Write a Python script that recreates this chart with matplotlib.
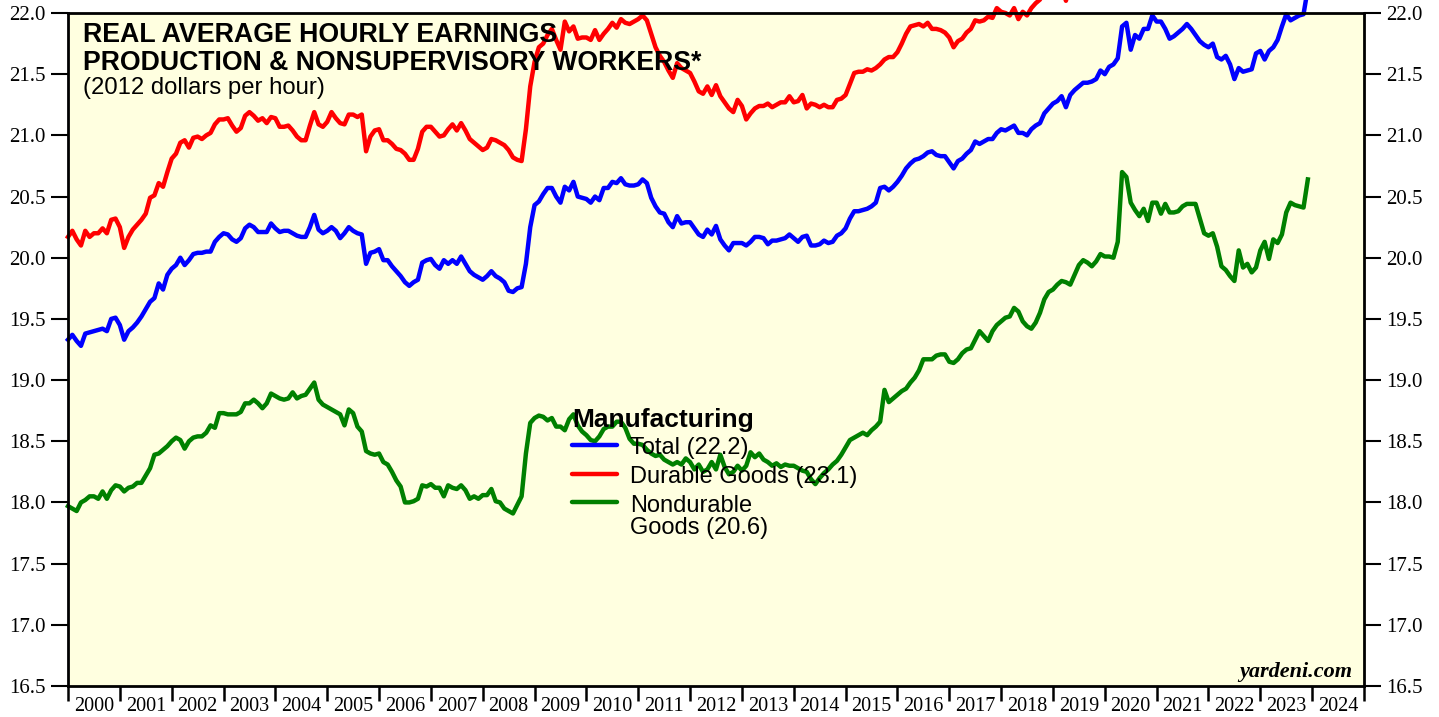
import numpy as np
import matplotlib
matplotlib.use("Agg")
import matplotlib.pyplot as plt

# ---------------- data (monthly, Jan 2000 - Dec 2023) ----------------
start_year = 2000
total = [
    19.33, 19.37, 19.32, 19.28, 19.38, 19.39, 19.40, 19.41, 19.42, 19.40, 19.50, 19.51,  # 2000
    19.45, 19.33, 19.40, 19.43, 19.47, 19.52, 19.58, 19.64, 19.67, 19.79, 19.74, 19.86,  # 2001
    19.91, 19.94, 20.00, 19.94, 19.98, 20.03, 20.04, 20.04, 20.05, 20.05, 20.13, 20.17,  # 2002
    20.20, 20.19, 20.15, 20.13, 20.16, 20.24, 20.27, 20.25, 20.21, 20.21, 20.21, 20.28,  # 2003
    20.24, 20.21, 20.22, 20.22, 20.20, 20.18, 20.17, 20.17, 20.25, 20.35, 20.23, 20.20,  # 2004
    20.22, 20.25, 20.22, 20.16, 20.20, 20.25, 20.22, 20.20, 20.19, 19.95, 20.04, 20.05,  # 2005
    20.07, 19.98, 19.98, 19.93, 19.89, 19.85, 19.80, 19.77, 19.80, 19.82, 19.96, 19.98,  # 2006
    19.99, 19.94, 19.91, 19.98, 19.95, 19.98, 19.95, 20.01, 19.95, 19.89, 19.86, 19.84,  # 2007
    19.82, 19.85, 19.89, 19.85, 19.83, 19.80, 19.73, 19.72, 19.75, 19.76, 19.95, 20.25,  # 2008
    20.43, 20.46, 20.52, 20.57, 20.57, 20.50, 20.45, 20.58, 20.55, 20.62, 20.50, 20.49,  # 2009
    20.48, 20.45, 20.50, 20.47, 20.57, 20.57, 20.62, 20.61, 20.65, 20.60, 20.59, 20.59,  # 2010
    20.60, 20.64, 20.61, 20.49, 20.42, 20.37, 20.36, 20.29, 20.25, 20.34, 20.28, 20.29,  # 2011
    20.29, 20.24, 20.19, 20.17, 20.23, 20.19, 20.26, 20.15, 20.10, 20.06, 20.12, 20.12,  # 2012
    20.12, 20.10, 20.13, 20.17, 20.17, 20.16, 20.11, 20.14, 20.14, 20.15, 20.16, 20.19,  # 2013
    20.16, 20.13, 20.17, 20.18, 20.10, 20.10, 20.11, 20.14, 20.12, 20.13, 20.18, 20.20,  # 2014
    20.24, 20.32, 20.38, 20.38, 20.39, 20.40, 20.42, 20.45, 20.57, 20.58, 20.55, 20.58,  # 2015
    20.62, 20.67, 20.73, 20.77, 20.80, 20.81, 20.83, 20.86, 20.87, 20.84, 20.83, 20.83,  # 2016
    20.78, 20.73, 20.79, 20.81, 20.85, 20.88, 20.95, 20.93, 20.95, 20.97, 20.97, 21.02,  # 2017
    21.05, 21.04, 21.06, 21.08, 21.02, 21.02, 21.00, 21.05, 21.08, 21.10, 21.18, 21.22,  # 2018
    21.26, 21.28, 21.32, 21.23, 21.33, 21.37, 21.40, 21.43, 21.43, 21.44, 21.46, 21.53,  # 2019
    21.50, 21.56, 21.58, 21.63, 21.89, 21.92, 21.70, 21.82, 21.79, 21.87, 21.87, 21.98,  # 2020
    21.93, 21.93, 21.87, 21.79, 21.81, 21.84, 21.87, 21.91, 21.87, 21.82, 21.77, 21.74,  # 2021
    21.72, 21.75, 21.64, 21.62, 21.65, 21.58, 21.46, 21.55, 21.52, 21.53, 21.54, 21.67,  # 2022
    21.69, 21.62, 21.69, 21.72, 21.78, 21.89, 21.99, 21.94, 21.96, 21.98, 21.99, 22.20,  # 2023
]
durable = [
    20.17, 20.22, 20.15, 20.10, 20.22, 20.17, 20.20, 20.20, 20.24, 20.20, 20.31, 20.32,  # 2000
    20.25, 20.08, 20.17, 20.23, 20.27, 20.31, 20.36, 20.49, 20.51, 20.61, 20.58, 20.70,  # 2001
    20.81, 20.85, 20.94, 20.96, 20.90, 20.98, 20.99, 20.97, 21.00, 21.02, 21.09, 21.13,  # 2002
    21.13, 21.14, 21.08, 21.03, 21.06, 21.16, 21.19, 21.16, 21.12, 21.14, 21.10, 21.15,  # 2003
    21.14, 21.07, 21.07, 21.08, 21.04, 20.99, 20.96, 20.96, 21.08, 21.19, 21.09, 21.07,  # 2004
    21.11, 21.19, 21.14, 21.10, 21.09, 21.17, 21.17, 21.15, 21.17, 20.87, 20.99, 21.04,  # 2005
    21.05, 20.96, 20.96, 20.93, 20.89, 20.88, 20.85, 20.80, 20.80, 20.89, 21.03, 21.07,  # 2006
    21.07, 21.03, 20.99, 21.00, 21.05, 21.09, 21.04, 21.10, 21.04, 20.97, 20.94, 20.91,  # 2007
    20.88, 20.90, 20.97, 20.96, 20.94, 20.92, 20.88, 20.82, 20.80, 20.79, 21.05, 21.40,  # 2008
    21.60, 21.72, 21.75, 21.82, 21.87, 21.78, 21.70, 21.93, 21.85, 21.89, 21.79, 21.80,  # 2009
    21.80, 21.78, 21.86, 21.78, 21.83, 21.87, 21.92, 21.88, 21.95, 21.92, 21.91, 21.93,  # 2010
    21.95, 21.98, 21.94, 21.83, 21.72, 21.65, 21.60, 21.53, 21.47, 21.59, 21.55, 21.53,  # 2011
    21.51, 21.44, 21.36, 21.34, 21.40, 21.33, 21.41, 21.32, 21.27, 21.22, 21.19, 21.29,  # 2012
    21.24, 21.13, 21.18, 21.22, 21.24, 21.24, 21.26, 21.23, 21.25, 21.27, 21.27, 21.32,  # 2013
    21.27, 21.28, 21.33, 21.22, 21.26, 21.25, 21.23, 21.25, 21.23, 21.23, 21.29, 21.30,  # 2014
    21.33, 21.42, 21.51, 21.52, 21.52, 21.54, 21.53, 21.55, 21.58, 21.62, 21.64, 21.64,  # 2015
    21.68, 21.75, 21.83, 21.89, 21.90, 21.91, 21.89, 21.92, 21.87, 21.87, 21.86, 21.84,  # 2016
    21.80, 21.72, 21.77, 21.79, 21.84, 21.87, 21.94, 21.93, 21.94, 21.97, 21.96, 22.04,  # 2017
    22.01, 22.00, 21.98, 22.04, 21.95, 22.01, 21.98, 22.04, 22.08, 22.11, 22.22, 22.25,  # 2018
    22.25, 22.27, 22.30, 22.10, 22.28, 22.32, 22.36, 22.38, 22.38, 22.40, 22.42, 22.48,  # 2019
    22.45, 22.53, 22.58, 22.63, 22.85, 22.88, 22.62, 22.75, 22.72, 22.80, 22.80, 22.92,  # 2020
    22.90, 22.90, 22.84, 22.75, 22.78, 22.80, 22.83, 22.87, 22.83, 22.80, 22.72, 22.66,  # 2021
    22.65, 22.68, 22.57, 22.55, 22.57, 22.50, 22.38, 22.47, 22.45, 22.46, 22.47, 22.60,  # 2022
    22.62, 22.55, 22.62, 22.66, 22.72, 22.80, 22.88, 22.85, 22.87, 22.90, 22.92, 23.10,  # 2023
]
nondurable = [
    17.97, 17.95, 17.93, 18.00, 18.02, 18.05, 18.05, 18.03, 18.09, 18.03, 18.10, 18.14,  # 2000
    18.13, 18.09, 18.12, 18.13, 18.16, 18.16, 18.22, 18.28, 18.39, 18.40, 18.43, 18.46,  # 2001
    18.50, 18.53, 18.51, 18.44, 18.50, 18.53, 18.54, 18.54, 18.57, 18.63, 18.61, 18.73,  # 2002
    18.73, 18.72, 18.72, 18.72, 18.74, 18.81, 18.81, 18.84, 18.81, 18.77, 18.81, 18.89,  # 2003
    18.87, 18.85, 18.84, 18.85, 18.90, 18.85, 18.87, 18.88, 18.93, 18.98, 18.84, 18.80,  # 2004
    18.78, 18.76, 18.74, 18.72, 18.63, 18.76, 18.73, 18.62, 18.58, 18.42, 18.40, 18.39,  # 2005
    18.40, 18.33, 18.31, 18.25, 18.18, 18.13, 18.00, 18.00, 18.01, 18.03, 18.14, 18.13,  # 2006
    18.15, 18.12, 18.12, 18.05, 18.14, 18.12, 18.11, 18.14, 18.10, 18.03, 18.05, 18.03,  # 2007
    18.06, 18.06, 18.11, 18.01, 18.00, 17.95, 17.93, 17.91, 17.98, 18.05, 18.40, 18.65,  # 2008
    18.69, 18.71, 18.70, 18.67, 18.69, 18.62, 18.62, 18.59, 18.68, 18.72, 18.63, 18.58,  # 2009
    18.55, 18.51, 18.50, 18.54, 18.60, 18.62, 18.62, 18.66, 18.66, 18.61, 18.52, 18.48,  # 2010
    18.48, 18.47, 18.43, 18.40, 18.38, 18.39, 18.35, 18.33, 18.31, 18.33, 18.31, 18.36,  # 2011
    18.33, 18.27, 18.31, 18.25, 18.27, 18.33, 18.27, 18.39, 18.29, 18.23, 18.25, 18.30,  # 2012
    18.26, 18.30, 18.41, 18.37, 18.40, 18.35, 18.33, 18.30, 18.32, 18.29, 18.31, 18.30,  # 2013
    18.30, 18.28, 18.26, 18.25, 18.19, 18.15, 18.20, 18.24, 18.27, 18.31, 18.34, 18.39,  # 2014
    18.45, 18.51, 18.53, 18.55, 18.57, 18.55, 18.59, 18.62, 18.66, 18.92, 18.82, 18.85,  # 2015
    18.88, 18.91, 18.93, 18.98, 19.02, 19.08, 19.17, 19.17, 19.17, 19.20, 19.21, 19.21,  # 2016
    19.15, 19.14, 19.17, 19.22, 19.25, 19.26, 19.33, 19.40, 19.36, 19.32, 19.40, 19.45,  # 2017
    19.48, 19.51, 19.52, 19.59, 19.56, 19.48, 19.44, 19.42, 19.47, 19.55, 19.66, 19.72,  # 2018
    19.74, 19.78, 19.81, 19.80, 19.78, 19.86, 19.94, 19.98, 19.96, 19.93, 19.97, 20.03,  # 2019
    20.01, 20.01, 20.00, 20.13, 20.70, 20.66, 20.45, 20.39, 20.34, 20.40, 20.30, 20.45,  # 2020
    20.45, 20.36, 20.44, 20.37, 20.37, 20.38, 20.42, 20.44, 20.44, 20.44, 20.32, 20.20,  # 2021
    20.18, 20.20, 20.09, 19.93, 19.90, 19.85, 19.81, 20.06, 19.92, 19.95, 19.88, 19.92,  # 2022
    20.06, 20.13, 19.99, 20.15, 20.12, 20.19, 20.37, 20.45, 20.43, 20.42, 20.41, 20.64,  # 2023
]
year_labels = [str(y) for y in range(2000, 2025)]
y_ticks = [16.5, 17.0, 17.5, 18.0, 18.5, 19.0, 19.5, 20.0, 20.5, 21.0, 21.5, 22.0]
title_lines = ["REAL AVERAGE HOURLY EARNINGS", "PRODUCTION & NONSUPERVISORY WORKERS*"]
subtitle = "(2012 dollars per hour)"
legend_title = "Manufacturing"
series_names = ["Total", "Durable Goods", "Nondurable\nGoods"]

# ---------------- figure ----------------
plt.rcParams["font.family"] = ["Liberation Serif", "DejaVu Serif"]
W, H = 1439, 717
fig = plt.figure(figsize=(W / 100, H / 100), dpi=100)
fig.patch.set_facecolor("white")
L, R, T, B = 68, 1364, 13, 686
ax = fig.add_axes([L / W, 1 - B / H, (R - L) / W, (B - T) / H])
ax.set_facecolor("#FFFFE0")

x = start_year + np.arange(len(total)) / 12.0
colors = ["#0000FF", "#FF0000", "#008000"]
series = [total, durable, nondurable]
for vals, c in zip(series, colors):
    ax.plot(x, vals, color=c, lw=3.2, clip_on=False, solid_joinstyle="round", zorder=2)

ax.set_xlim(2000, 2025)
ax.set_ylim(16.5, 22.0)

for s in ax.spines.values():
    s.set_linewidth(2.0)
    s.set_color("black")
    s.set_zorder(2.5)

# x axis: ticks at year boundaries, labels centred in each year
edges = np.arange(2000, 2026)
ax.set_xticks(edges)
ax.set_xticklabels([])
ax.set_xticks(np.arange(2000, 2025) + 0.5, minor=True)
ax.set_xticklabels(year_labels, minor=True)
ax.tick_params(axis="x", which="major", length=11, width=1.8, direction="out",
               bottom=True, top=False, labelbottom=False)
ax.tick_params(axis="x", which="minor", length=0, pad=8, labelsize=14.5)

# y axis: both sides
ax.set_yticks(y_ticks)
ax.set_yticklabels([f"{v:.1f}" for v in y_ticks])
ax.tick_params(axis="y", which="major", length=12, width=1.5, direction="out",
               left=True, right=True, labelleft=True, labelright=True,
               labelsize=15, pad=4)

def fx(px):
    return (px - L) / (R - L)

def fy(py):
    return 1 - (py - T) / (B - T)

sans = ["Liberation Sans", "DejaVu Sans"]
ax.text(fx(83), fy(42), title_lines[0], transform=ax.transAxes, fontsize=19.3,
        fontweight="bold", family=sans, va="baseline", ha="left", zorder=4)
ax.text(fx(83), fy(69.5), title_lines[1], transform=ax.transAxes, fontsize=19.2,
        fontweight="bold", family=sans, va="baseline", ha="left", zorder=4)
ax.text(fx(83), fy(94), subtitle, transform=ax.transAxes, fontsize=17.2,
        family=sans, va="baseline", ha="left", zorder=4)

# legend (manual, to keep the 2-line label aligned like the original)
ax.text(fx(572), fy(427), legend_title, transform=ax.transAxes, fontsize=19,
        fontweight="bold", family=sans, va="baseline", ha="left", zorder=4)
handle_y = [445, 474, 502]
line_gap = 23
for name, vals, c, hy in zip(series_names, series, colors, handle_y):
    ax.plot([fx(572), fx(617)], [fy(hy), fy(hy)], transform=ax.transAxes,
            color=c, lw=3.2, solid_capstyle="round", clip_on=False, zorder=4)
    label = f"{name} ({vals[-1]:.1f})"
    nlines = label.count("\n") + 1
    ax.text(fx(630), fy(hy + 8.5 + (nlines - 1) * line_gap), label,
            transform=ax.transAxes, fontsize=17, family=sans,
            va="baseline", ha="left", linespacing=1.0, zorder=4)

ax.text(fx(1352), fy(677), "yardeni.com", transform=ax.transAxes, fontsize=16,
        fontweight="bold", style="italic", family=["Liberation Serif", "DejaVu Serif"],
        va="baseline", ha="right", zorder=4)

fig.savefig("out.png", dpi=100, facecolor="white")
